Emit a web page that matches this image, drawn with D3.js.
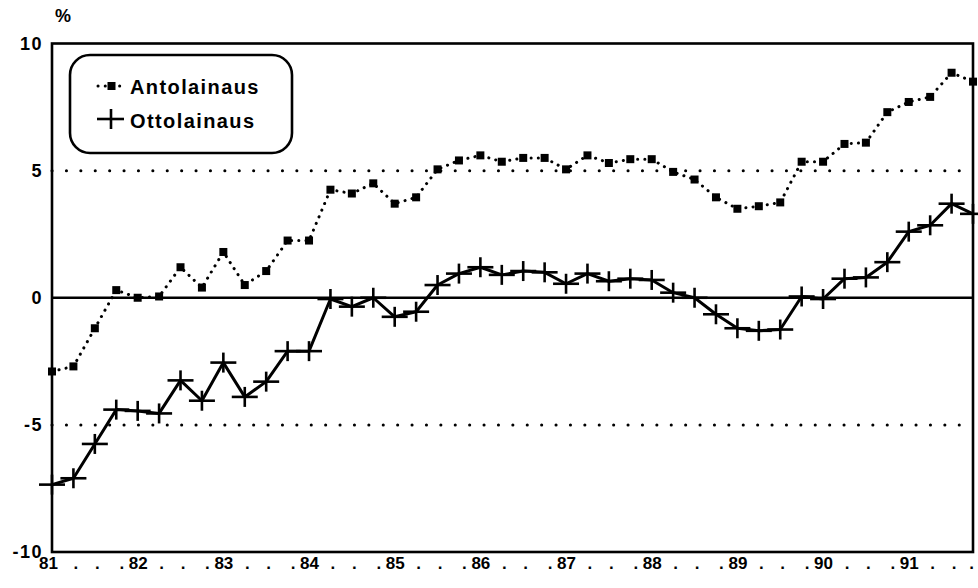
<!DOCTYPE html>
<html>
<head>
<meta charset="utf-8">
<script src="https://cdnjs.cloudflare.com/ajax/libs/d3/7.8.5/d3.min.js"></script>
<style>
  body { margin: 0; background: #fff; }
  svg text { font-family: "Liberation Sans", Arial, sans-serif; font-weight: bold; fill: #000; }
</style>
</head>
<body>
<svg id="chart" width="978" height="588"></svg>
<script>
// quarterly data 1981Q1 - 1991Q4, % change
const years = ["81", "82", "83", "84", "85", "86", "87", "88", "89", "90", "91"];
const quarters = years.flatMap(yr => ["Q1", "Q2", "Q3", "Q4"].map(q => yr + q));

const antolainaus = [
  -2.9, -2.7, -1.2, 0.3, 0.0, 0.05, 1.2, 0.4, 1.8, 0.5, 1.05,
  2.25, 2.25, 4.25, 4.1, 4.5, 3.7, 3.95, 5.05, 5.4, 5.6, 5.35,
  5.5, 5.5, 5.05, 5.6, 5.3, 5.45, 5.45, 4.95, 4.65, 3.95, 3.5,
  3.6, 3.75, 5.35, 5.35, 6.05, 6.1, 7.3, 7.7, 7.9, 8.85, 8.5
];
const ottolainaus = [
  -7.35, -7.1, -5.75, -4.4, -4.45, -4.55, -3.25, -4.05, -2.55, -3.9, -3.3,
  -2.1, -2.1, -0.05, -0.35, 0.0, -0.75, -0.55, 0.5, 0.95, 1.2, 0.9,
  1.05, 1.0, 0.55, 0.95, 0.65, 0.75, 0.7, 0.2, 0.0, -0.65, -1.2,
  -1.3, -1.25, 0.05, -0.05, 0.75, 0.8, 1.4, 2.6, 2.85, 3.7, 3.3
];
const yTicks = [-10, -5, 0, 5, 10];
const seriesNames = ["Antolainaus", "Ottolainaus"];

const margin = { top: 43.5, right: 5, bottom: 36, left: 52 };
const svg = d3.select("svg#chart"),
  width = +svg.attr("width") - margin.left - margin.right,
  height = +svg.attr("height") - margin.top - margin.bottom,
  g = svg.append("g").attr("transform", `translate(${margin.left}, ${margin.top})`);

const x = d3.scalePoint().domain(quarters).range([0, width]);
const y = d3.scaleLinear().domain([-10, 10]).range([height, 0]);

// dotted reference lines at +-5, solid zero line
g.selectAll(".grid")
  .data(yTicks.filter(d => d === 5 || d === -5))
  .enter().append("line")
  .attr("class", "grid")
  .attr("x1", 0).attr("x2", width)
  .attr("y1", d => y(d)).attr("y2", d => y(d))
  .attr("stroke", "#000")
  .attr("stroke-width", 3)
  .attr("stroke-linecap", "round")
  .attr("stroke-dasharray", "0.1 14.3");

g.append("line")
  .attr("x1", 0).attr("x2", width)
  .attr("y1", y(0)).attr("y2", y(0))
  .attr("stroke", "#000")
  .attr("stroke-width", 2.6);

// frame
g.append("rect")
  .attr("width", width).attr("height", height)
  .attr("fill", "none")
  .attr("stroke", "#000")
  .attr("stroke-width", 2.6);

// y axis labels (plain hyphen for minus, like the original)
const yAxis = g.append("g")
  .call(d3.axisLeft(y).tickValues(yTicks).tickSize(0).tickPadding(9)
    .tickFormat(d => String(d)));
yAxis.select(".domain").remove();
yAxis.selectAll("text")
  .style("font-size", "18px")
  .style("letter-spacing", "1.5px");

// x axis labels: year at Q1, dots for other quarters
const last = quarters[quarters.length - 1];
const xAxis = g.append("g")
  .attr("transform", `translate(0, ${height})`)
  .call(d3.axisBottom(x).tickSize(0).tickPadding(5)
    .tickFormat(d => d.endsWith("Q1") ? d.slice(0, 2) : "."));
xAxis.select(".domain").remove();
xAxis.selectAll("text")
  .style("font-size", "17px")
  .attr("dx", d => {
    if (d === quarters[0]) return -4;
    if (d === last) return -2;
    if (d.endsWith("Q1")) return 0;
    return d.endsWith("Q4") ? 5 : 2;
  });

svg.append("text")
  .attr("x", 55)
  .attr("y", 22)
  .style("font-size", "18px")
  .text("%");

// Antolainaus: dotted line with square markers
const line = d3.line()
  .x((d, i) => x(quarters[i]))
  .y(d => y(d));

g.append("path")
  .datum(antolainaus)
  .attr("fill", "none")
  .attr("stroke", "#000")
  .attr("stroke-width", 3)
  .attr("stroke-linecap", "round")
  .attr("stroke-dasharray", "0.1 7.1")
  .attr("d", line);

g.selectAll(".sq")
  .data(antolainaus)
  .enter().append("rect")
  .attr("class", "sq")
  .attr("x", (d, i) => x(quarters[i]) - 4)
  .attr("y", d => y(d) - 4)
  .attr("width", 8)
  .attr("height", 8)
  .attr("fill", "#000");

// Ottolainaus: solid line with plus markers
g.append("path")
  .datum(ottolainaus)
  .attr("fill", "none")
  .attr("stroke", "#000")
  .attr("stroke-width", 3)
  .attr("stroke-linejoin", "round")
  .attr("d", line);

const plus = g.selectAll(".plus")
  .data(ottolainaus)
  .enter().append("g")
  .attr("class", "plus")
  .attr("transform", (d, i) => `translate(${x(quarters[i])}, ${y(d)})`);
plus.append("line").attr("x1", -13).attr("x2", 13).attr("stroke", "#000").attr("stroke-width", 2.6);
plus.append("line").attr("y1", -10).attr("y2", 10).attr("stroke", "#000").attr("stroke-width", 2.6);

// Legend
const legend = svg.append("g").attr("class", "legend");
legend.append("rect")
  .attr("x", 70).attr("y", 55)
  .attr("width", 222).attr("height", 98)
  .attr("rx", 20).attr("ry", 20)
  .attr("fill", "#fff")
  .attr("stroke", "#000")
  .attr("stroke-width", 2.6);

const items = legend.selectAll(".item")
  .data(seriesNames)
  .enter().append("g")
  .attr("class", "item")
  .attr("transform", (d, i) => `translate(0, ${i * 34})`);

items.append("text")
  .attr("x", 130)
  .attr("y", 94)
  .style("font-size", "20px")
  .style("letter-spacing", "1.4px")
  .text(d => d);

const lgA = items.filter((d, i) => i === 0);
lgA.append("line")
  .attr("x1", 98).attr("x2", 124)
  .attr("y1", 86).attr("y2", 86)
  .attr("stroke", "#000").attr("stroke-width", 3)
  .attr("stroke-linecap", "round")
  .attr("stroke-dasharray", "0.1 7.1");
lgA.append("rect")
  .attr("x", 107.5).attr("y", 82)
  .attr("width", 8).attr("height", 8)
  .attr("fill", "#000");

const lgO = items.filter((d, i) => i === 1);
lgO.append("line").attr("x1", 97).attr("x2", 124).attr("y1", 85).attr("y2", 85)
  .attr("stroke", "#000").attr("stroke-width", 2.6);
lgO.append("line").attr("x1", 111).attr("x2", 111).attr("y1", 75).attr("y2", 95)
  .attr("stroke", "#000").attr("stroke-width", 2.6);
</script>
</body>
</html>
